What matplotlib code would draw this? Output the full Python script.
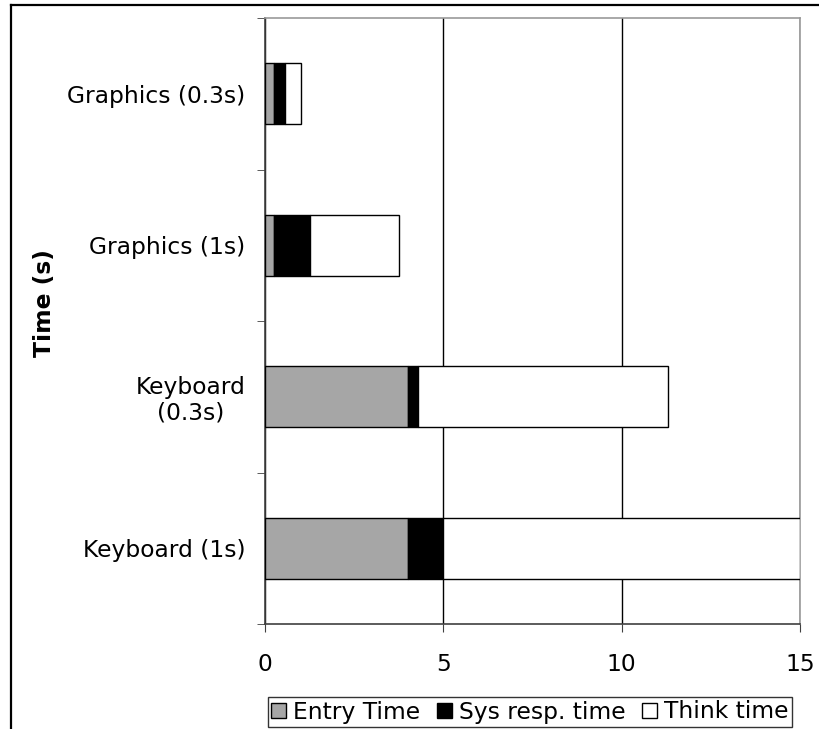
import numpy as np
import matplotlib.pyplot as plt
from matplotlib.lines import Line2D

# categories from bottom to top
categories = ['Keyboard (1s)', 'Keyboard\n(0.3s)', 'Graphics (1s)', 'Graphics (0.3s)']
entry_time = [4, 4, 0.25, 0.25]
sys_resp = [1, 0.3, 1, 0.3]
think_time = [10, 7, 2.5, 0.45]
x_ticks = [0, 5, 10, 15]

plt.rcParams['font.family'] = ['DejaVu Sans']
fs = 16.8

fig = plt.figure(figsize=(8.2, 7.29), dpi=100)
ax = fig.add_axes([265/820, 1-624/729, 535/820, 606/729])

y = np.arange(len(categories))
entry_time = np.array(entry_time)
sys_resp = np.array(sys_resp)
think_time = np.array(think_time)

ax.barh(y, entry_time, height=0.4, color='#a6a6a6', edgecolor='black', linewidth=1,
        label='Entry Time', zorder=3)
ax.barh(y, sys_resp, left=entry_time, height=0.4, color='black', edgecolor='black',
        linewidth=1, label='Sys resp. time', zorder=3)
ax.barh(y, think_time, left=entry_time + sys_resp, height=0.4, color='white',
        edgecolor='black', linewidth=1, label='Think time', zorder=3)

ax.set_xlim(0, 15)
ax.set_ylim(-0.5, len(categories) - 0.5)
ax.set_xticks(x_ticks)
ax.set_xticklabels([str(t) for t in x_ticks], fontsize=fs)
ax.set_yticks(y)
ax.set_yticklabels(categories, fontsize=fs)
for lab in ax.get_yticklabels():
    lab.set_multialignment('center')
    lab.set_linespacing(1.15)
ax.set_yticks(np.arange(-0.5, len(categories), 1.0), minor=True)

ax.tick_params(axis='y', which='major', length=0, pad=14)
ax.tick_params(axis='y', which='minor', length=6, direction='out', color='#404040')
ax.tick_params(axis='x', which='major', length=6, direction='out', color='#404040', pad=15)

ax.xaxis.grid(True, color='black', linewidth=1, zorder=0)
ax.set_axisbelow(True)
for s in ['left', 'bottom']:
    ax.spines[s].set_color('#404040')
    ax.spines[s].set_linewidth(1.2)
for s in ['top', 'right']:
    ax.spines[s].set_color('#999999')
    ax.spines[s].set_linewidth(1.2)

fig.text(45/820, 1-303/729, 'Time (s)', rotation=90, fontsize=fs, fontweight='bold',
         ha='center', va='center')

leg = fig.legend(loc='center', bbox_to_anchor=(530/820, 1-712/729), ncol=3, fontsize=fs,
                 frameon=True, fancybox=False, edgecolor='black', handlelength=0.65,
                 handleheight=0.65, handletextpad=0.3, columnspacing=0.7, borderpad=0.15,
                 borderaxespad=0)
leg.get_frame().set_linewidth(1)

# outer chart border (top and left)
fig.add_artist(Line2D([11/820, 1], [1-5/729, 1-5/729], color='black', linewidth=1.6))
fig.add_artist(Line2D([11/820, 11/820], [0, 1-5/729], color='black', linewidth=1.6))

fig.savefig('out.png', dpi=100)
